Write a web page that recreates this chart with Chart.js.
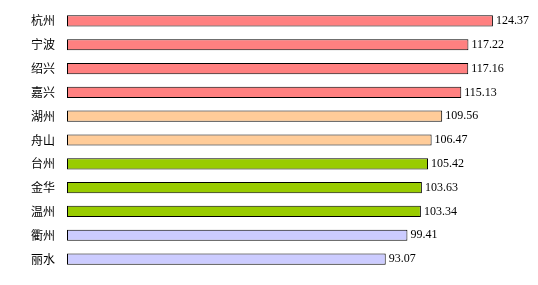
<!DOCTYPE html>
<html>
<head>
<meta charset="utf-8">
<script src="https://cdn.jsdelivr.net/npm/chart.js@4"></script>
<style>
html,body{margin:0;padding:0;background:#fff;}
#wrap{width:538px;height:285px;position:relative;}
</style>
</head>
<body>
<div id="wrap"><canvas id="c"></canvas></div>
<script>
const categories = ["杭州","宁波","绍兴","嘉兴","湖州","舟山","台州","金华","温州","衢州","丽水"];
const values = [124.37, 117.22, 117.16, 115.13, 109.56, 106.47, 105.42, 103.63, 103.34, 99.41, 93.07];
const barColors = ["#FF8080","#FF8080","#FF8080","#FF8080","#FFCC99","#FFCC99","#99CC00","#99CC00","#99CC00","#CCCCFF","#CCCCFF"];

const valueLabels = {
  id: 'valueLabels',
  afterDatasetsDraw(chart) {
    const ctx = chart.ctx;
    const meta = chart.getDatasetMeta(0);
    ctx.save();
    ctx.font = '12px "Liberation Serif", "Times New Roman", serif';
    ctx.fillStyle = '#000';
    ctx.textAlign = 'left';
    ctx.textBaseline = 'middle';
    meta.data.forEach((bar, i) => {
      ctx.fillText(values[i].toFixed(2), bar.x + 3, bar.y);
    });
    ctx.restore();
  }
};

new Chart(document.getElementById('c'), {
  type: 'bar',
  data: {
    labels: categories,
    datasets: [{
      data: values,
      backgroundColor: barColors,
      borderColor: '#000',
      borderWidth: 1,
      borderSkipped: false,
      barPercentage: 0.47,
      categoryPercentage: 1
    }]
  },
  options: {
    indexAxis: 'y',
    responsive: true,
    maintainAspectRatio: false,
    animation: false,
    layout: { padding: { top: 9, bottom: 14, left: 0, right: 8 } },
    plugins: { legend: { display: false }, tooltip: { enabled: false } },
    scales: {
      x: { display: false, min: 0, max: 135.2 },
      y: {
        grid: { display: false, drawTicks: false },
        border: { display: false },
        afterFit(s) { s.width = 67; s.paddingTop = 0; s.paddingBottom = 0; },
        ticks: {
          padding: 12,
          color: '#000',
          font: { family: '"Noto Sans CJK SC", sans-serif', size: 12 }
        }
      }
    }
  },
  plugins: [valueLabels]
});
</script>
</body>
</html>
